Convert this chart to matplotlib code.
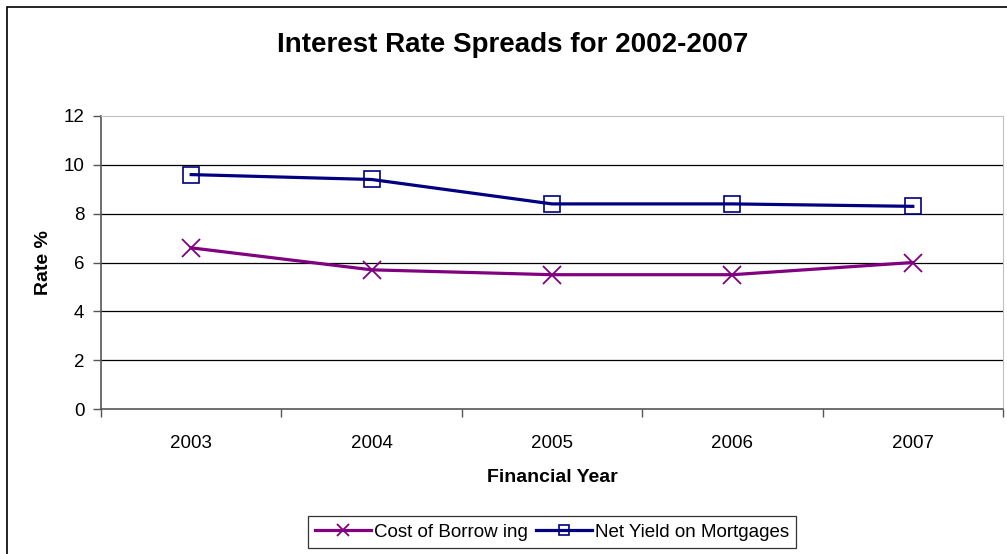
import matplotlib.pyplot as plt
from matplotlib.patches import Rectangle

# data
years = ["2003", "2004", "2005", "2006", "2007"]
cost_of_borrowing = [6.6, 5.7, 5.5, 5.5, 6.0]
net_yield = [9.6, 9.4, 8.4, 8.4, 8.3]

plt.rcParams['font.family'] = ['Liberation Sans', 'DejaVu Sans']

fig = plt.figure(figsize=(10.07, 5.54), dpi=100)
ax = fig.add_axes([101 / 1007, 1 - 409 / 554, 902 / 1007, 293 / 554])

x = list(range(len(years)))
ax.plot(x, cost_of_borrowing, color='#800080', lw=2.3, marker='x',
        ms=13, mew=1.3, label="Cost of Borrow ing", zorder=3)
ax.plot(x, net_yield, color='#000080', lw=2.3, marker='s', ms=11,
        mfc='none', mew=1.2, label="Net Yield on Mortgages", zorder=3)

ax.set_xlim(-0.5, 4.5)
ax.set_ylim(0, 12)
ax.set_yticks(range(0, 13, 2))
ax.set_xticks(x)
ax.set_xticklabels(years)
ax.set_xticks([i - 0.5 for i in range(6)], minor=True)
ax.tick_params(axis='x', which='major', length=0, pad=19, labelsize=13.5)
ax.tick_params(axis='x', which='minor', length=6, width=1, color='#555555')
ax.tick_params(axis='y', length=6, width=1, color='#555555', labelsize=13.5, pad=6)

for yv in range(2, 12, 2):
    ax.axhline(yv, color='black', lw=0.9, zorder=1)

ax.spines['left'].set_color('#555555')
ax.spines['bottom'].set_color('#555555')
ax.spines['left'].set_linewidth(1.2)
ax.spines['bottom'].set_linewidth(1.2)
ax.spines['top'].set_color('#c0c0c0')
ax.spines['right'].set_color('#c0c0c0')

ax.set_xlabel("Financial Year", fontweight='bold', fontsize=14, labelpad=12)
ax.set_ylabel("Rate %", fontweight='bold', fontsize=14, labelpad=8)
fig.text(513 / 1007, 1 - 45 / 554, "Interest Rate Spreads for 2002-2007",
         ha='center', va='center', fontsize=20, fontweight='bold')

leg = ax.legend(loc='center', bbox_to_anchor=(0.5, -0.42), ncol=2,
                frameon=True, fancybox=False, fontsize=13.5, markerscale=0.7,
                handlelength=3.0, handletextpad=0.15, columnspacing=0.4,
                borderpad=0.4, borderaxespad=0)
leg.get_frame().set_edgecolor('black')
leg.get_frame().set_linewidth(0.9)

fig.patches.append(Rectangle((7 / 1007, -0.02), 1.1, 1 - 7 / 554 + 0.02,
                             transform=fig.transFigure, fill=False,
                             edgecolor='black', lw=1.2))

fig.savefig("out.png", dpi=100)
